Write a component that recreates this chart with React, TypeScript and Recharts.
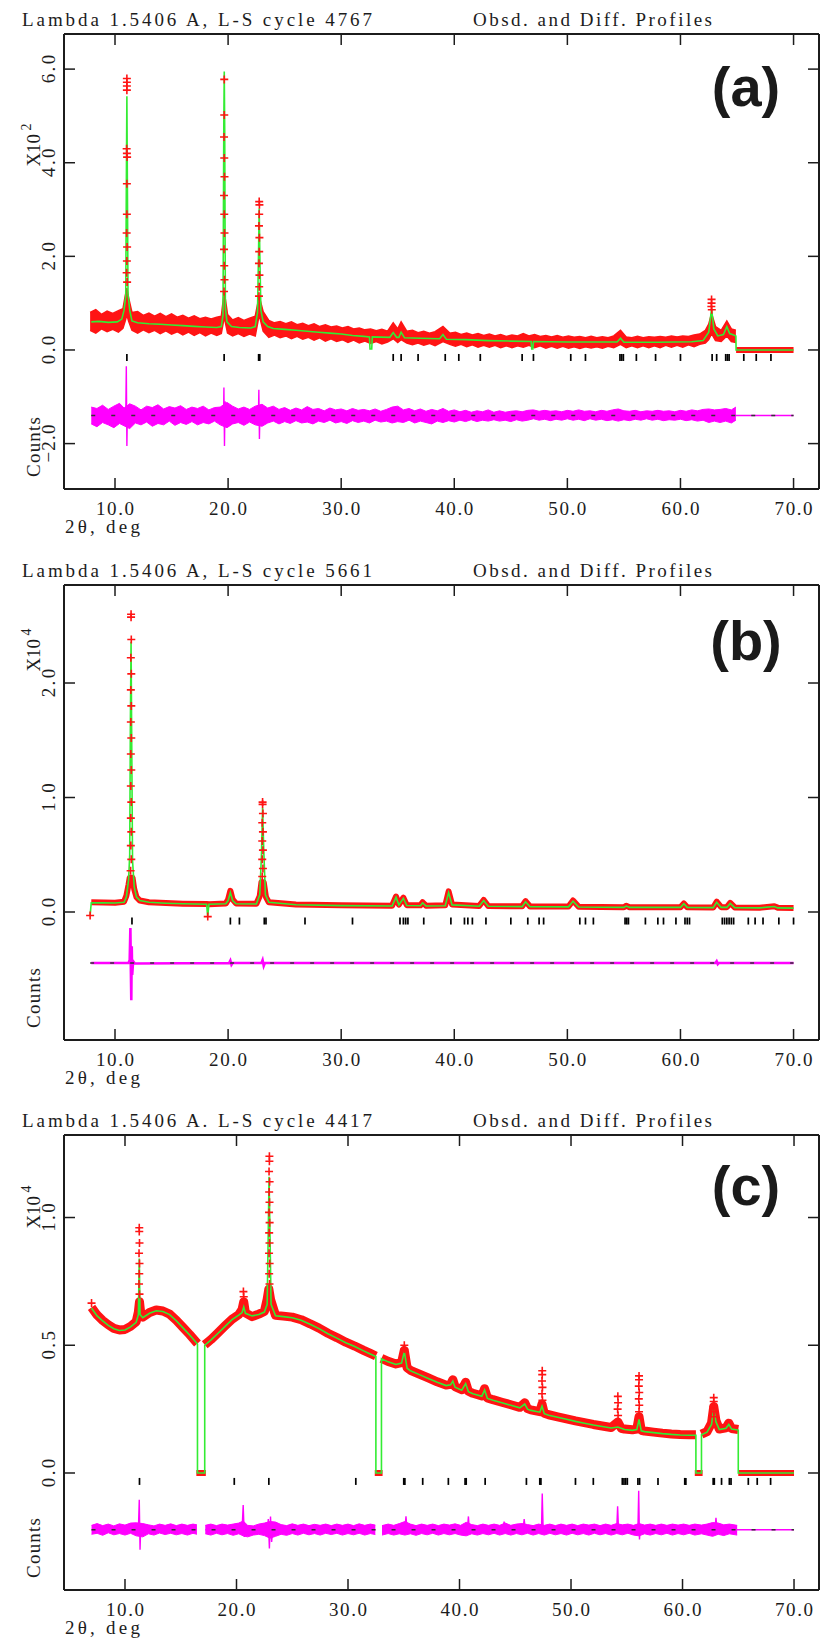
import React from 'react';
import { ComposedChart, Line, Area, Scatter, XAxis, YAxis } from 'recharts';

const FONT = '"Liberation Serif", "DejaVu Serif", serif';
const INK = '#1c1c1c';
const RED = '#ff1414';
const GREEN = '#33ec33';
const MAG = '#ff00ff';

const xTicks = [10, 20, 30, 40, 50, 60, 70];

// ---------------- Panel (a) : X10^2 ----------------
const aCalc = [
  [7.9, 0.6], [8.6, 0.61], [9.4, 0.59], [10.2, 0.6], [10.6, 0.66], [10.8, 0.85], [10.95, 1.15], [11.0, 3.4], [11.05, 5.42], [11.1, 3.3], [11.15, 1.2], [11.3, 0.85], [11.5, 0.62], [12.0, 0.58], [13.0, 0.56], [14.0, 0.55], [15.0, 0.535], [16.0, 0.52], [17.0, 0.505], [18.0, 0.49], [19.0, 0.48], [19.4, 0.5], [19.55, 0.75], [19.62, 4.8], [19.66, 5.95], [19.7, 4.7], [19.76, 0.9], [19.9, 0.6], [20.3, 0.5], [21.0, 0.48], [22.0, 0.47], [22.4, 0.5], [22.6, 0.8], [22.7, 2.2], [22.75, 3.02], [22.8, 2.1], [22.9, 0.85], [23.1, 0.6], [23.5, 0.5], [24.0, 0.46], [25.0, 0.44], [26.0, 0.42], [27.0, 0.4], [28.0, 0.38], [29.0, 0.36], [30.0, 0.34], [31.0, 0.31], [32.0, 0.29], [32.5, 0.28], [32.55, 0.02], [32.7, 0.02], [32.75, 0.28], [34.3, 0.27], [34.6, 0.37], [34.9, 0.27], [35.1, 0.27], [35.3, 0.38], [35.6, 0.26], [37.0, 0.25], [38.7, 0.24], [39.0, 0.33], [39.3, 0.23], [41.0, 0.22], [43.0, 0.2], [45.0, 0.19], [46.8, 0.18], [46.85, 0.02], [46.95, 0.02], [47.0, 0.18], [50.0, 0.17], [54.4, 0.17], [54.7, 0.25], [55.0, 0.165], [58.0, 0.165], [61.0, 0.175], [62.0, 0.2], [62.5, 0.38], [62.75, 0.88], [62.95, 0.45], [63.3, 0.3], [63.8, 0.33], [64.1, 0.5], [64.35, 0.35], [64.7, 0.32], [64.9, 0.3], [64.92, 0], [70, 0],
];
const aObsBand = [
  [7.8, 0.42, 0.8], [8.3, 0.36, 0.86], [8.8, 0.45, 0.76], [9.3, 0.39, 0.83], [9.8, 0.44, 0.78], [10.3, 0.38, 0.84], [10.7, 0.46, 0.88], [10.9, 0.62, 1.15], [11.05, 0.75, 1.32], [11.2, 0.62, 1.12], [11.5, 0.42, 0.8], [12.0, 0.36, 0.82], [12.5, 0.43, 0.74], [13.0, 0.37, 0.79], [13.5, 0.42, 0.72], [14.0, 0.35, 0.78], [14.5, 0.41, 0.71], [15.0, 0.34, 0.77], [15.5, 0.39, 0.7], [16.0, 0.32, 0.74], [16.5, 0.38, 0.68], [17.0, 0.31, 0.73], [17.5, 0.37, 0.67], [18.0, 0.3, 0.7], [18.5, 0.36, 0.66], [19.0, 0.31, 0.7], [19.4, 0.35, 0.72], [19.66, 0.7, 1.25], [19.95, 0.36, 0.76], [20.4, 0.3, 0.64], [20.9, 0.35, 0.69], [21.4, 0.29, 0.63], [21.9, 0.34, 0.68], [22.4, 0.3, 0.72], [22.75, 0.75, 1.15], [23.1, 0.4, 0.82], [23.6, 0.27, 0.63], [24.1, 0.32, 0.58], [24.6, 0.26, 0.61], [25.1, 0.3, 0.56], [25.6, 0.24, 0.6], [26.1, 0.29, 0.54], [26.6, 0.23, 0.57], [27.1, 0.27, 0.52], [27.6, 0.21, 0.56], [28.1, 0.26, 0.5], [28.6, 0.19, 0.54], [29.1, 0.24, 0.49], [29.6, 0.18, 0.51], [30.1, 0.22, 0.47], [30.6, 0.16, 0.5], [31.1, 0.21, 0.45], [31.6, 0.15, 0.47], [32.1, 0.19, 0.43], [32.6, 0.14, 0.45], [33.1, 0.18, 0.41], [33.6, 0.13, 0.44], [34.1, 0.17, 0.4], [34.6, 0.24, 0.58], [35.0, 0.16, 0.45], [35.3, 0.22, 0.6], [35.8, 0.15, 0.4], [36.3, 0.11, 0.42], [36.8, 0.15, 0.37], [37.3, 0.1, 0.4], [37.8, 0.14, 0.36], [38.3, 0.09, 0.39], [39.0, 0.18, 0.5], [39.6, 0.12, 0.36], [40.1, 0.08, 0.38], [40.6, 0.12, 0.33], [41.1, 0.07, 0.36], [41.6, 0.11, 0.32], [42.1, 0.06, 0.35], [42.6, 0.1, 0.31], [43.1, 0.06, 0.34], [43.6, 0.1, 0.3], [44.1, 0.05, 0.33], [44.6, 0.09, 0.29], [45.1, 0.05, 0.32], [45.6, 0.09, 0.3], [46.1, 0.06, 0.35], [46.6, 0.1, 0.3], [47.1, 0.05, 0.33], [47.6, 0.09, 0.29], [48.1, 0.04, 0.31], [48.6, 0.08, 0.28], [49.1, 0.04, 0.31], [49.6, 0.08, 0.27], [50.1, 0.04, 0.3], [50.6, 0.07, 0.27], [51.1, 0.03, 0.29], [51.6, 0.07, 0.26], [52.1, 0.04, 0.29], [52.6, 0.07, 0.26], [53.1, 0.04, 0.28], [53.6, 0.08, 0.26], [54.1, 0.05, 0.3], [54.7, 0.12, 0.42], [55.2, 0.05, 0.28], [55.7, 0.09, 0.26], [56.2, 0.05, 0.29], [56.7, 0.09, 0.26], [57.2, 0.05, 0.28], [57.7, 0.09, 0.27], [58.2, 0.05, 0.29], [58.7, 0.1, 0.27], [59.2, 0.06, 0.3], [59.7, 0.1, 0.28], [60.2, 0.06, 0.3], [60.7, 0.11, 0.29], [61.2, 0.07, 0.32], [61.7, 0.12, 0.34], [62.2, 0.15, 0.42], [62.5, 0.22, 0.55], [62.75, 0.35, 0.78], [63.1, 0.2, 0.5], [63.6, 0.18, 0.42], [64.1, 0.3, 0.62], [64.5, 0.18, 0.45], [64.9, 0.16, 0.42],
];
const aObsZero = [[64.92, 0], [70, 0]];
const aObsPts = [
  [11.05, 5.8], [11.05, 5.72], [11.05, 5.64], [11.05, 5.55], [11.03, 4.3], [11.05, 4.2], [11.07, 4.12], [11.05, 3.55], [11.05, 2.9], [11.03, 2.5], [11.07, 2.2], [11.05, 1.9], [11.03, 1.65], [11.07, 1.45],
  [19.66, 5.78], [19.66, 5.02], [19.64, 4.55], [19.66, 4.1], [19.68, 3.7], [19.64, 3.3], [19.66, 2.9], [19.68, 2.5], [19.64, 2.15], [19.66, 1.8], [19.68, 1.5], [19.64, 1.25],
  [22.75, 3.17], [22.77, 3.1], [22.75, 2.9], [22.73, 2.65], [22.77, 2.4], [22.75, 2.1], [22.73, 1.85], [22.77, 1.6], [22.75, 1.35], [22.73, 1.15],
  [62.75, 1.08], [62.75, 1.0], [62.73, 0.93], [62.77, 0.86],
];
const aRefl = [11.05, 19.65, 22.7, 22.8, 34.6, 35.3, 36.8, 39.2, 40.4, 42.3, 46.0, 47.0, 50.3, 51.6, 54.65, 54.8, 54.95, 56.1, 57.8, 60.0, 62.8, 63.2, 64.0, 64.15, 64.3, 65.6, 66.7, 68.0];
const aDiffBand = [
  [7.9, -1.58, -1.22], [8.4, -1.64, -1.25], [8.9, -1.55, -1.18], [9.4, -1.6, -1.27], [9.9, -1.66, -1.2], [10.4, -1.57, -1.14], [10.8, -1.62, -1.24], [11.3, -1.68, -1.15], [11.8, -1.56, -1.2], [12.3, -1.6, -1.28], [12.8, -1.54, -1.2], [13.3, -1.63, -1.23], [13.8, -1.57, -1.17], [14.3, -1.6, -1.26], [14.8, -1.52, -1.21], [15.3, -1.61, -1.24], [15.8, -1.55, -1.19], [16.3, -1.59, -1.27], [16.8, -1.53, -1.22], [17.3, -1.6, -1.25], [17.8, -1.55, -1.2], [18.3, -1.58, -1.28], [18.8, -1.52, -1.23], [19.3, -1.6, -1.22], [19.9, -1.66, -1.12], [20.4, -1.58, -1.2], [20.9, -1.55, -1.26], [21.4, -1.61, -1.22], [21.9, -1.54, -1.27], [22.4, -1.6, -1.2], [23.0, -1.63, -1.16], [23.5, -1.56, -1.24], [24.0, -1.52, -1.2], [24.5, -1.58, -1.27], [25.0, -1.53, -1.23], [25.5, -1.57, -1.29], [26.0, -1.51, -1.24], [26.5, -1.56, -1.28], [27.0, -1.54, -1.21], [27.5, -1.58, -1.27], [28.0, -1.52, -1.25], [28.5, -1.55, -1.3], [29.0, -1.5, -1.24], [29.5, -1.56, -1.28], [30.0, -1.53, -1.26], [30.5, -1.57, -1.3], [31.0, -1.51, -1.25], [31.5, -1.55, -1.29], [32.0, -1.52, -1.27], [32.5, -1.56, -1.3], [33.0, -1.5, -1.26], [33.5, -1.54, -1.31], [34.0, -1.52, -1.27], [34.5, -1.56, -1.22], [35.0, -1.53, -1.2], [35.5, -1.55, -1.28], [36.0, -1.5, -1.25], [36.5, -1.56, -1.3], [37.0, -1.52, -1.26], [37.5, -1.55, -1.31], [38.0, -1.58, -1.27], [38.5, -1.52, -1.3], [39.0, -1.55, -1.25], [39.5, -1.51, -1.31], [40.0, -1.54, -1.28], [40.5, -1.5, -1.32], [41.0, -1.53, -1.29], [41.5, -1.49, -1.33], [42.0, -1.53, -1.3], [42.5, -1.5, -1.32], [43.0, -1.52, -1.28], [43.5, -1.49, -1.33], [44.0, -1.52, -1.3], [44.5, -1.5, -1.33], [45.0, -1.53, -1.31], [45.5, -1.49, -1.3], [46.0, -1.52, -1.32], [46.5, -1.5, -1.29], [47.0, -1.47, -1.28], [47.5, -1.5, -1.31], [48.0, -1.48, -1.29], [48.5, -1.51, -1.31], [49.0, -1.48, -1.3], [49.5, -1.5, -1.32], [50.0, -1.47, -1.29], [50.5, -1.5, -1.31], [51.0, -1.48, -1.28], [51.5, -1.51, -1.31], [52.0, -1.47, -1.3], [52.5, -1.5, -1.32], [53.0, -1.48, -1.29], [53.5, -1.51, -1.31], [54.0, -1.49, -1.28], [54.5, -1.52, -1.26], [55.0, -1.49, -1.3], [55.5, -1.51, -1.31], [56.0, -1.48, -1.29], [56.5, -1.5, -1.32], [57.0, -1.47, -1.3], [57.5, -1.5, -1.31], [58.0, -1.48, -1.29], [58.5, -1.51, -1.31], [59.0, -1.49, -1.3], [59.5, -1.5, -1.32], [60.0, -1.48, -1.29], [60.5, -1.51, -1.31], [61.0, -1.49, -1.28], [61.5, -1.52, -1.3], [62.0, -1.5, -1.27], [62.5, -1.55, -1.26], [63.0, -1.52, -1.28], [63.5, -1.55, -1.27], [64.0, -1.52, -1.25], [64.5, -1.56, -1.28], [64.9, -1.5, -1.22],
];
const aDiffLine = [
  [7.9, -1.4], [10.95, -1.4], [11.0, -0.35], [11.05, -2.05], [11.1, -1.25], [11.2, -1.4], [19.6, -1.4], [19.63, -0.8], [19.68, -2.05], [19.73, -1.1], [19.85, -1.3], [19.95, -1.4], [22.68, -1.4], [22.72, -0.85], [22.77, -1.9], [22.82, -1.3], [22.9, -1.4], [70, -1.4],
];
const aBase = [[7.9, -1.4], [70, -1.4]];

// ---------------- Panel (b) : X10^4 ----------------
const bCalc = [
  [7.8, -0.03], [7.9, 0.08], [9.0, 0.08], [10.0, 0.078], [10.8, 0.085], [11.0, 0.13], [11.2, 0.28], [11.3, 0.5], [11.36, 1.65], [11.42, 2.36], [11.47, 1.6], [11.55, 0.45], [11.7, 0.22], [11.9, 0.13], [12.2, 0.1], [13.0, 0.085], [14.5, 0.077], [16.0, 0.072], [18.1, 0.068], [18.2, -0.04], [18.3, 0.067], [19.8, 0.072], [20.0, 0.1], [20.2, 0.17], [20.4, 0.1], [20.7, 0.072], [22.5, 0.07], [22.8, 0.15], [22.95, 0.5], [23.05, 0.91], [23.15, 0.55], [23.3, 0.15], [23.6, 0.085], [26.0, 0.063], [30.0, 0.056], [34.5, 0.052], [34.85, 0.13], [35.1, 0.062], [35.5, 0.12], [35.8, 0.057], [37.0, 0.055], [37.2, 0.08], [37.5, 0.052], [39.2, 0.055], [39.5, 0.17], [39.8, 0.062], [42.2, 0.05], [42.6, 0.1], [43.0, 0.05], [46.0, 0.047], [46.3, 0.09], [46.7, 0.046], [50.1, 0.045], [50.5, 0.095], [51.0, 0.043], [55.0, 0.04], [55.2, 0.052], [55.5, 0.04], [60.0, 0.04], [60.3, 0.072], [60.6, 0.04], [62.9, 0.038], [63.2, 0.085], [63.6, 0.04], [64.1, 0.04], [64.4, 0.075], [64.8, 0.038], [67.0, 0.036], [68.3, 0.048], [68.6, 0.036], [70.0, 0.034],
];
const bObs = [
  [7.9, 0.085], [9.0, 0.082], [10.0, 0.08], [10.8, 0.09], [11.0, 0.14], [11.2, 0.24], [11.3, 0.3], [11.55, 0.3], [11.7, 0.2], [11.9, 0.13], [12.2, 0.1], [13.0, 0.085], [14.5, 0.078], [16.0, 0.073], [18.1, 0.07], [18.3, 0.068], [19.8, 0.075], [20.0, 0.11], [20.2, 0.185], [20.4, 0.11], [20.7, 0.075], [22.5, 0.072], [22.8, 0.14], [22.95, 0.26], [23.15, 0.26], [23.35, 0.13], [23.6, 0.085], [26.0, 0.065], [30.0, 0.058], [34.5, 0.055], [34.85, 0.135], [35.1, 0.065], [35.5, 0.125], [35.8, 0.06], [37.0, 0.058], [37.2, 0.085], [37.5, 0.055], [39.2, 0.058], [39.5, 0.18], [39.8, 0.065], [42.2, 0.052], [42.6, 0.105], [43.0, 0.052], [46.0, 0.05], [46.3, 0.095], [46.7, 0.048], [50.1, 0.048], [50.5, 0.1], [51.0, 0.045], [55.0, 0.042], [55.2, 0.055], [55.5, 0.042], [60.0, 0.042], [60.3, 0.075], [60.6, 0.042], [62.9, 0.04], [63.2, 0.09], [63.6, 0.042], [64.1, 0.042], [64.4, 0.08], [64.8, 0.04], [67.0, 0.038], [68.3, 0.05], [68.6, 0.038], [70.0, 0.035],
];
const bObsPts = [
  [7.8, -0.03], [18.2, -0.04],
  [11.42, 2.6], [11.42, 2.575], [11.44, 2.38], [11.4, 2.22], [11.44, 2.08], [11.4, 1.94], [11.44, 1.8], [11.4, 1.66], [11.44, 1.52], [11.4, 1.38], [11.44, 1.24], [11.4, 1.1], [11.44, 0.96], [11.4, 0.82], [11.44, 0.7], [11.4, 0.58], [11.44, 0.46], [11.38, 0.36],
  [23.05, 0.96], [23.05, 0.94], [23.08, 0.86], [23.02, 0.78], [23.08, 0.7], [23.02, 0.62], [23.08, 0.54], [23.02, 0.46], [23.08, 0.38], [23.02, 0.31],
];
const bRefl = [11.5, 20.2, 21.0, 23.2, 23.35, 26.8, 31.0, 35.2, 35.5, 35.7, 35.9, 37.3, 39.7, 40.9, 41.2, 41.6, 42.8, 45.0, 46.5, 47.5, 47.9, 51.1, 51.6, 52.3, 55.1, 55.25, 55.4, 56.9, 58.0, 58.5, 59.6, 60.4, 60.6, 60.8, 63.7, 63.9, 64.1, 64.3, 64.5, 64.7, 66.0, 66.6, 67.3, 68.7, 70.0];
const bDiffLine = [
  [7.9, -0.445], [11.2, -0.445], [11.3, -0.42], [11.36, -0.14], [11.4, -0.5], [11.44, -0.77], [11.48, -0.3], [11.52, -0.55], [11.6, -0.43], [11.75, -0.45], [20.1, -0.445], [20.2, -0.425], [20.3, -0.46], [20.4, -0.445], [22.95, -0.445], [23.05, -0.42], [23.15, -0.47], [23.25, -0.445], [63.1, -0.445], [63.2, -0.43], [63.3, -0.455], [63.4, -0.445], [70, -0.445],
];
const bBase = [[7.8, -0.445], [70, -0.445]];

// ---------------- Panel (c) : X10^4 ----------------
const cCalc = [
  [7.0, 0.645], [7.5, 0.615], [8.0, 0.595], [8.5, 0.578], [9.0, 0.565], [9.5, 0.558], [10.0, 0.56], [10.5, 0.572], [11.0, 0.59], [11.2, 0.62], [11.28, 0.84], [11.35, 0.62], [11.6, 0.608], [12.2, 0.625], [12.8, 0.635], [13.4, 0.632], [14.0, 0.62], [14.6, 0.596], [15.2, 0.568], [15.8, 0.54], [16.5, 0.505], [16.5, 0], [17.15, 0], [17.15, 0.5], [17.7, 0.52], [18.3, 0.545], [19.0, 0.575], [19.6, 0.6], [20.2, 0.618], [20.5, 0.628], [20.65, 0.65], [20.8, 0.625], [21.4, 0.615], [22.0, 0.62], [22.5, 0.63], [22.75, 0.66], [22.85, 0.95], [22.92, 1.16], [23.0, 0.95], [23.1, 0.66], [23.5, 0.615], [24.2, 0.612], [25.0, 0.608], [25.8, 0.598], [26.6, 0.582], [27.4, 0.565], [28.2, 0.545], [29.0, 0.528], [29.8, 0.51], [30.6, 0.495], [31.4, 0.478], [32.0, 0.466], [32.5, 0.456], [32.5, 0], [33.0, 0], [33.0, 0.447], [33.6, 0.435], [34.3, 0.425], [34.8, 0.43], [35.05, 0.475], [35.3, 0.41], [35.6, 0.4], [36.4, 0.385], [37.2, 0.37], [38.0, 0.355], [38.8, 0.342], [39.2, 0.345], [39.4, 0.36], [39.6, 0.336], [40.2, 0.324], [40.55, 0.35], [40.8, 0.318], [41.2, 0.31], [42.0, 0.3], [42.25, 0.325], [42.5, 0.292], [43.0, 0.285], [43.8, 0.275], [44.6, 0.265], [45.4, 0.255], [45.85, 0.27], [46.1, 0.25], [46.4, 0.245], [47.2, 0.238], [47.4, 0.262], [47.6, 0.232], [48.0, 0.226], [48.8, 0.218], [49.6, 0.21], [50.4, 0.202], [51.2, 0.195], [52.0, 0.188], [52.8, 0.182], [53.6, 0.176], [54.2, 0.18], [54.8, 0.17], [55.5, 0.167], [55.9, 0.17], [56.1, 0.21], [56.3, 0.165], [56.6, 0.162], [57.4, 0.158], [58.2, 0.154], [59.0, 0.151], [59.8, 0.149], [60.6, 0.148], [61.2, 0.148], [61.2, 0], [61.7, 0], [61.7, 0.15], [62.2, 0.16], [62.6, 0.19], [62.8, 0.25], [63.0, 0.2], [63.3, 0.17], [63.9, 0.175], [64.15, 0.19], [64.4, 0.172], [65.0, 0.168], [65.0, 0], [70, 0],
];
const cObs = [
  [7.0, 0.648], [7.5, 0.618], [8.0, 0.597], [8.5, 0.58], [9.0, 0.566], [9.5, 0.56], [10.0, 0.562], [10.5, 0.574], [11.0, 0.592], [11.2, 0.63], [11.3, 0.67], [11.4, 0.63], [11.6, 0.61], [12.2, 0.628], [12.8, 0.638], [13.4, 0.634], [14.0, 0.622], [14.6, 0.598], [15.2, 0.57], [15.8, 0.542], [16.5, 0.507], [16.8, null], [17.15, 0.502], [17.7, 0.522], [18.3, 0.547], [19.0, 0.577], [19.6, 0.602], [20.2, 0.62], [20.5, 0.64], [20.65, 0.67], [20.8, 0.627], [21.4, 0.612], [22.0, 0.622], [22.5, 0.632], [22.75, 0.68], [22.9, 0.72], [23.05, 0.68], [23.5, 0.617], [24.2, 0.614], [25.0, 0.61], [25.8, 0.6], [26.6, 0.584], [27.4, 0.567], [28.2, 0.547], [29.0, 0.53], [29.8, 0.512], [30.6, 0.497], [31.4, 0.48], [32.0, 0.468], [32.5, 0.458], [32.75, null], [33.0, 0.449], [33.6, 0.437], [34.3, 0.427], [34.8, 0.432], [35.05, 0.48], [35.3, 0.412], [35.6, 0.402], [36.4, 0.387], [37.2, 0.372], [38.0, 0.357], [38.8, 0.344], [39.2, 0.347], [39.4, 0.365], [39.6, 0.338], [40.2, 0.326], [40.55, 0.355], [40.8, 0.32], [41.2, 0.312], [42.0, 0.302], [42.25, 0.33], [42.5, 0.294], [43.0, 0.287], [43.8, 0.277], [44.6, 0.267], [45.4, 0.257], [45.85, 0.275], [46.1, 0.252], [46.4, 0.247], [47.2, 0.24], [47.4, 0.27], [47.6, 0.234], [48.0, 0.228], [48.8, 0.22], [49.6, 0.212], [50.4, 0.204], [51.2, 0.197], [52.0, 0.19], [52.8, 0.184], [53.6, 0.178], [54.2, 0.2], [54.5, 0.175], [54.8, 0.172], [55.5, 0.169], [55.9, 0.172], [56.1, 0.22], [56.3, 0.167], [56.6, 0.164], [57.4, 0.16], [58.2, 0.156], [59.0, 0.153], [59.8, 0.151], [60.6, 0.15], [61.2, 0.15], [61.45, null], [61.7, 0.152], [62.2, 0.162], [62.6, 0.195], [62.8, 0.26], [63.0, 0.205], [63.3, 0.172], [63.9, 0.177], [64.15, 0.195], [64.4, 0.174], [65.0, 0.17],
];
const cObsZero = [[16.4, 0], [17.25, 0], [17.3, null], [32.4, 0], [33.1, 0], [33.2, null], [61.1, 0], [61.8, 0], [62.0, null], [65.0, 0], [70, 0]];
const cObsPts = [
  [7.0, 0.665],
  [11.28, 0.96], [11.28, 0.945], [11.3, 0.9], [11.26, 0.86], [11.3, 0.82], [11.28, 0.78], [11.26, 0.74], [11.3, 0.7],
  [20.62, 0.71], [20.65, 0.69],
  [22.95, 1.24], [22.95, 1.22], [22.92, 1.18], [22.97, 1.14], [22.93, 1.1], [22.96, 1.06], [22.92, 1.02], [22.97, 0.98], [22.93, 0.94], [22.96, 0.9], [22.92, 0.86], [22.97, 0.82], [22.93, 0.78], [22.96, 0.74],
  [35.05, 0.5], [35.05, 0.485],
  [47.42, 0.4], [47.42, 0.385], [47.4, 0.36], [47.44, 0.335], [47.4, 0.31], [47.44, 0.285],
  [54.2, 0.3], [54.22, 0.275], [54.18, 0.25], [54.22, 0.225],
  [56.1, 0.38], [56.1, 0.365], [56.08, 0.34], [56.12, 0.315], [56.08, 0.29], [56.12, 0.265], [56.1, 0.24],
  [62.8, 0.295], [62.8, 0.28], [62.78, 0.26], [62.82, 0.24], [62.8, 0.22],
];
const cRefl = [11.3, 19.8, 22.9, 30.7, 35.0, 35.1, 36.7, 39.0, 40.5, 40.6, 42.3, 46.0, 47.2, 47.3, 50.4, 52.0, 54.6, 54.75, 54.9, 55.05, 56.0, 56.15, 57.8, 60.2, 60.3, 62.75, 62.85, 63.5, 64.2, 64.35, 65.9, 66.7, 67.9];
const cDiffBand = [
  [7.0, -0.24, -0.205], [7.5, -0.236, -0.198], [8.0, -0.244, -0.206], [8.5, -0.234, -0.2], [9.0, -0.242, -0.207], [9.5, -0.237, -0.199], [10.0, -0.243, -0.204], [10.5, -0.236, -0.196], [11.0, -0.246, -0.195], [11.6, -0.25, -0.198], [12.1, -0.238, -0.203], [12.6, -0.243, -0.207], [13.1, -0.235, -0.2], [13.6, -0.241, -0.205], [14.1, -0.236, -0.199], [14.6, -0.242, -0.206], [15.1, -0.237, -0.2], [15.6, -0.243, -0.205], [16.1, -0.236, -0.2], [16.45, -0.24, -0.203], [16.8, null, null], [17.2, -0.238, -0.205], [17.7, -0.243, -0.2], [18.2, -0.236, -0.206], [18.7, -0.242, -0.2], [19.2, -0.237, -0.204], [19.7, -0.244, -0.2], [20.2, -0.238, -0.196], [20.6, -0.246, -0.188], [21.0, -0.25, -0.205], [21.5, -0.243, -0.207], [22.0, -0.24, -0.2], [22.5, -0.245, -0.196], [23.0, -0.255, -0.19], [23.5, -0.248, -0.192], [24.0, -0.24, -0.202], [24.5, -0.244, -0.206], [25.0, -0.237, -0.199], [25.5, -0.243, -0.205], [26.0, -0.236, -0.2], [26.5, -0.242, -0.206], [27.0, -0.237, -0.201], [27.5, -0.243, -0.205], [28.0, -0.236, -0.2], [28.5, -0.241, -0.206], [29.0, -0.236, -0.2], [29.5, -0.243, -0.205], [30.0, -0.237, -0.2], [30.5, -0.242, -0.206], [31.0, -0.236, -0.199], [31.5, -0.243, -0.205], [32.0, -0.237, -0.2], [32.45, -0.241, -0.204], [32.75, null, null], [33.05, -0.243, -0.206], [33.6, -0.237, -0.2], [34.1, -0.243, -0.205], [34.6, -0.238, -0.198], [35.1, -0.243, -0.19], [35.6, -0.238, -0.2], [36.1, -0.244, -0.206], [36.6, -0.237, -0.2], [37.1, -0.242, -0.205], [37.6, -0.236, -0.2], [38.1, -0.243, -0.206], [38.6, -0.237, -0.2], [39.1, -0.242, -0.204], [39.6, -0.237, -0.199], [40.1, -0.243, -0.205], [40.6, -0.246, -0.193], [41.1, -0.238, -0.202], [41.6, -0.243, -0.206], [42.1, -0.237, -0.2], [42.6, -0.242, -0.205], [43.1, -0.236, -0.2], [43.6, -0.243, -0.205], [44.1, -0.237, -0.196], [44.6, -0.243, -0.205], [45.1, -0.237, -0.2], [45.6, -0.242, -0.198], [46.1, -0.236, -0.202], [46.6, -0.243, -0.206], [47.1, -0.237, -0.2], [47.6, -0.243, -0.205], [48.1, -0.236, -0.2], [48.6, -0.242, -0.206], [49.1, -0.237, -0.2], [49.6, -0.243, -0.205], [50.1, -0.236, -0.2], [50.6, -0.242, -0.206], [51.1, -0.237, -0.2], [51.6, -0.243, -0.204], [52.1, -0.236, -0.2], [52.6, -0.242, -0.206], [53.1, -0.237, -0.2], [53.6, -0.243, -0.205], [54.1, -0.237, -0.198], [54.6, -0.242, -0.203], [55.1, -0.236, -0.2], [55.6, -0.243, -0.205], [56.1, -0.246, -0.198], [56.6, -0.238, -0.204], [57.1, -0.243, -0.2], [57.6, -0.237, -0.205], [58.1, -0.242, -0.2], [58.6, -0.236, -0.205], [59.1, -0.243, -0.2], [59.6, -0.237, -0.204], [60.1, -0.242, -0.2], [60.6, -0.236, -0.205], [61.1, -0.243, -0.2], [61.7, -0.238, -0.204], [62.2, -0.243, -0.2], [62.7, -0.248, -0.194], [63.2, -0.24, -0.196], [63.7, -0.245, -0.203], [64.2, -0.238, -0.2], [64.9, -0.243, -0.205],
];
const cDiffLine = [
  [7.0, -0.222], [11.2, -0.222], [11.28, -0.105], [11.35, -0.3], [11.42, -0.2], [11.5, -0.222], [16.45, -0.222], [16.8, null], [17.2, -0.222], [20.5, -0.222], [20.6, -0.125], [20.7, -0.25], [20.8, -0.222], [22.8, -0.222], [22.85, -0.18], [22.95, -0.295], [23.05, -0.17], [23.15, -0.27], [23.25, -0.222], [32.45, -0.222], [32.75, null], [33.05, -0.222], [35.1, -0.222], [35.2, -0.17], [35.3, -0.222], [40.7, -0.222], [40.8, -0.17], [40.9, -0.235], [41.0, -0.222], [43.9, -0.222], [44.0, -0.19], [44.1, -0.222], [45.7, -0.222], [45.8, -0.18], [45.9, -0.222], [47.35, -0.222], [47.42, -0.08], [47.5, -0.222], [54.1, -0.222], [54.18, -0.13], [54.26, -0.222], [56.0, -0.222], [56.07, -0.07], [56.14, -0.26], [56.2, -0.222], [62.9, -0.222], [63.0, -0.175], [63.1, -0.222], [70, -0.222],
];
const cBase = [[7.0, -0.222], [70, -0.222]];

// ---------------- helpers ----------------
const xy = (arr: any[]) => arr.map(([x, y]) => ({ x, y }));
const rng = (arr: any[]) => arr.map(([x, lo, hi]) => ({ x, r: lo === null ? null : [lo, hi] }));
const lvl = (arr: number[], y: number) => arr.map((x) => ({ x, y }));
const fmt = (v: number) => (v < 0 ? '\u2212' : '') + Math.abs(v).toFixed(1);

const XBottomTick = (p: any) => (
  <g>
    <line x1={p.x} x2={p.x} y1={p.y} y2={p.y - 11} stroke={INK} strokeWidth={1.5} />
    <text x={p.x} y={p.y + 26} textAnchor="middle" fontFamily={FONT} fontSize={19} fill={INK} textLength={38} lengthAdjust="spacing">
      {fmt(p.payload.value)}
    </text>
  </g>
);
const XTopTick = (p: any) => <line x1={p.x} x2={p.x} y1={p.y} y2={p.y + 11} stroke={INK} strokeWidth={1.5} />;
const YLeftTick = (p: any) => {
  const s = fmt(p.payload.value);
  return (
    <g>
      <line x1={p.x} x2={p.x + 11} y1={p.y} y2={p.y} stroke={INK} strokeWidth={1.5} />
      <text transform={`translate(${p.x - 9},${p.y}) rotate(-90)`} textAnchor="middle" fontFamily={FONT} fontSize={19} fill={INK} textLength={s.length * 9.5} lengthAdjust="spacing">
        {s}
      </text>
    </g>
  );
};
const YRightTick = (p: any) => <line x1={p.x} x2={p.x - 11} y1={p.y} y2={p.y} stroke={INK} strokeWidth={1.5} />;

const Plus = (p: any) =>
  p.cx == null ? <g /> : (
    <path d={`M${p.cx - 4},${p.cy}H${p.cx + 4}M${p.cx},${p.cy - 4}V${p.cy + 4}`} stroke={RED} strokeWidth={1.6} fill="none" />
  );
const ReflBar = (p: any) =>
  p.cx == null ? <g /> : <line x1={p.cx} x2={p.cx} y1={p.cy - 3.5} y2={p.cy + 3.5} stroke="#000" strokeWidth={1.7} />;

type Cfg = {
  top: number; height: number; marginTop: number; xAxisH: number;
  xDomain: number[]; yDomain: number[]; yTicks: number[];
  obsBand?: any[]; obsLine?: any[]; obsWidth?: number; obsZero?: any[]; obsPts: any[];
  calc: any[]; refl: any[]; diffBand?: any[]; diffLine: any[]; diffWidth: number; base: any[];
};

function Panel({ c }: { c: Cfg }) {
  return (
    <div style={{ position: 'absolute', left: 0, top: c.top }}>
      <ComposedChart width={820} height={c.height} margin={{ top: c.marginTop, right: 1, bottom: 0, left: 0 }}>
        <XAxis dataKey="x" type="number" domain={c.xDomain} allowDataOverflow ticks={xTicks} interval={0}
          height={c.xAxisH} tickLine={false} tickSize={0} tickMargin={0} tick={XBottomTick}
          axisLine={{ stroke: INK, strokeWidth: 2 }} />
        <XAxis xAxisId="top" orientation="top" mirror dataKey="x" type="number" domain={c.xDomain} allowDataOverflow ticks={xTicks} interval={0}
          tickLine={false} tickSize={0} tickMargin={0} tick={XTopTick} axisLine={{ stroke: INK, strokeWidth: 2 }} />
        <YAxis type="number" domain={c.yDomain} allowDataOverflow ticks={c.yTicks} interval={0} width={64}
          tickLine={false} tickSize={0} tickMargin={0} tick={YLeftTick} axisLine={{ stroke: INK, strokeWidth: 2 }} />
        <YAxis yAxisId="right" orientation="right" mirror type="number" domain={c.yDomain} allowDataOverflow ticks={c.yTicks} interval={0}
          tickLine={false} tickSize={0} tickMargin={0} tick={YRightTick} axisLine={{ stroke: INK, strokeWidth: 2 }} />

        {c.obsBand && (
          <Area data={rng(c.obsBand)} dataKey="r" type="linear" stroke={RED} strokeWidth={1.5} fill={RED} fillOpacity={1} isAnimationActive={false} dot={false} activeDot={false} />
        )}
        {c.obsLine && (
          <Line data={xy(c.obsLine)} dataKey="y" type="linear" stroke={RED} strokeWidth={c.obsWidth} strokeLinejoin="round" dot={false} activeDot={false} isAnimationActive={false} />
        )}
        {c.obsZero && (
          <Line data={xy(c.obsZero)} dataKey="y" type="linear" stroke={RED} strokeWidth={6} dot={false} activeDot={false} isAnimationActive={false} />
        )}
        <Scatter data={xy(c.obsPts)} dataKey="y" shape={Plus} isAnimationActive={false} />
        <Line data={xy(c.calc)} dataKey="y" type="linear" stroke={GREEN} strokeWidth={1.6} dot={false} activeDot={false} isAnimationActive={false} />
        <Scatter data={c.refl} dataKey="y" shape={ReflBar} isAnimationActive={false} />
        {c.diffBand && (
          <Area data={rng(c.diffBand)} dataKey="r" type="linear" stroke={MAG} strokeWidth={1} fill={MAG} fillOpacity={1} isAnimationActive={false} dot={false} activeDot={false} />
        )}
        <Line data={xy(c.diffLine)} dataKey="y" type="linear" stroke={MAG} strokeWidth={c.diffWidth} dot={false} activeDot={false} isAnimationActive={false} />
        <Line data={xy(c.base)} dataKey="y" type="linear" stroke="#333" strokeWidth={1.4} strokeDasharray="4 16" dot={false} activeDot={false} isAnimationActive={false} />
      </ComposedChart>
    </div>
  );
}

const panels: Cfg[] = [
  {
    top: 0, height: 540, marginTop: 34, xAxisH: 51, xDomain: [5.49, 72.25], yDomain: [-2.97, 6.75], yTicks: [-2, 0, 2, 4, 6],
    obsBand: aObsBand, obsZero: aObsZero, obsPts: aObsPts, calc: aCalc, refl: lvl(aRefl, -0.16),
    diffBand: aDiffBand, diffLine: aDiffLine, diffWidth: 1.4, base: aBase,
  },
  {
    top: 545, height: 546, marginTop: 40, xAxisH: 51, xDomain: [5.49, 72.25], yDomain: [-1.118, 2.856], yTicks: [0, 1, 2],
    obsLine: bObs, obsWidth: 6, obsPts: bObsPts, calc: bCalc, refl: lvl(bRefl, -0.079),
    diffLine: bDiffLine, diffWidth: 2.6, base: bBase,
  },
  {
    top: 1095, height: 543, marginTop: 40, xAxisH: 48, xDomain: [4.53, 72.24], yDomain: [-0.458, 1.323], yTicks: [0, 0.5, 1],
    obsLine: cObs, obsWidth: 9, obsZero: cObsZero, obsPts: cObsPts, calc: cCalc, refl: lvl(cRefl, -0.033),
    diffBand: cDiffBand, diffLine: cDiffLine, diffWidth: 1.4, base: cBase,
  },
];

const titles = ['Lambda 1.5406 A, L-S cycle 4767', 'Lambda 1.5406 A, L-S cycle 5661', 'Lambda 1.5406 A. L-S cycle 4417'];
const subTitle = 'Obsd. and Diff. Profiles';
const exps = ['2', '4', '4'];
const letters = ['(a)', '(b)', '(c)'];
const titleY = [26, 577, 1127];
const plotBottom = [489, 1040, 1590];
const expLabelY = [145, 650, 1207];
const letterY = [106, 660, 1205];

export default function App() {
  const t = { fontFamily: FONT, fontSize: 19, fill: INK } as any;
  return (
    <div style={{ position: 'absolute', left: 0, top: 0, width: 820, height: 1638, background: '#fff', overflow: 'hidden' }}>
      {panels.map((c, i) => <Panel key={i} c={c} />)}
      <svg width={820} height={1638} style={{ position: 'absolute', left: 0, top: 0, pointerEvents: 'none' }}>
        {panels.map((_, i) => (
          <g key={i}>
            <text x={22} y={titleY[i]} {...t} textLength={350} lengthAdjust="spacing">{titles[i]}</text>
            <text x={473} y={titleY[i]} {...t} textLength={239} lengthAdjust="spacing">{subTitle}</text>
            <text transform={`translate(40,${expLabelY[i]}) rotate(-90)`} textAnchor="middle" {...t}>
              X10<tspan dy={-9} fontSize={14}> {exps[i]}</tspan>
            </text>
            <text transform={`translate(40,${plotBottom[i] - 42}) rotate(-90)`} textAnchor="middle" {...t} textLength={60} lengthAdjust="spacing">Counts</text>
            <text x={65} y={plotBottom[i] + 44} {...t} textLength={75} lengthAdjust="spacing">2θ, deg</text>
            <text x={746} y={letterY[i]} textAnchor="middle" fontFamily='"Liberation Sans", Arial, sans-serif' fontWeight="bold" fontSize={56} fill="#1a1a1a">{letters[i]}</text>
          </g>
        ))}
      </svg>
    </div>
  );
}
